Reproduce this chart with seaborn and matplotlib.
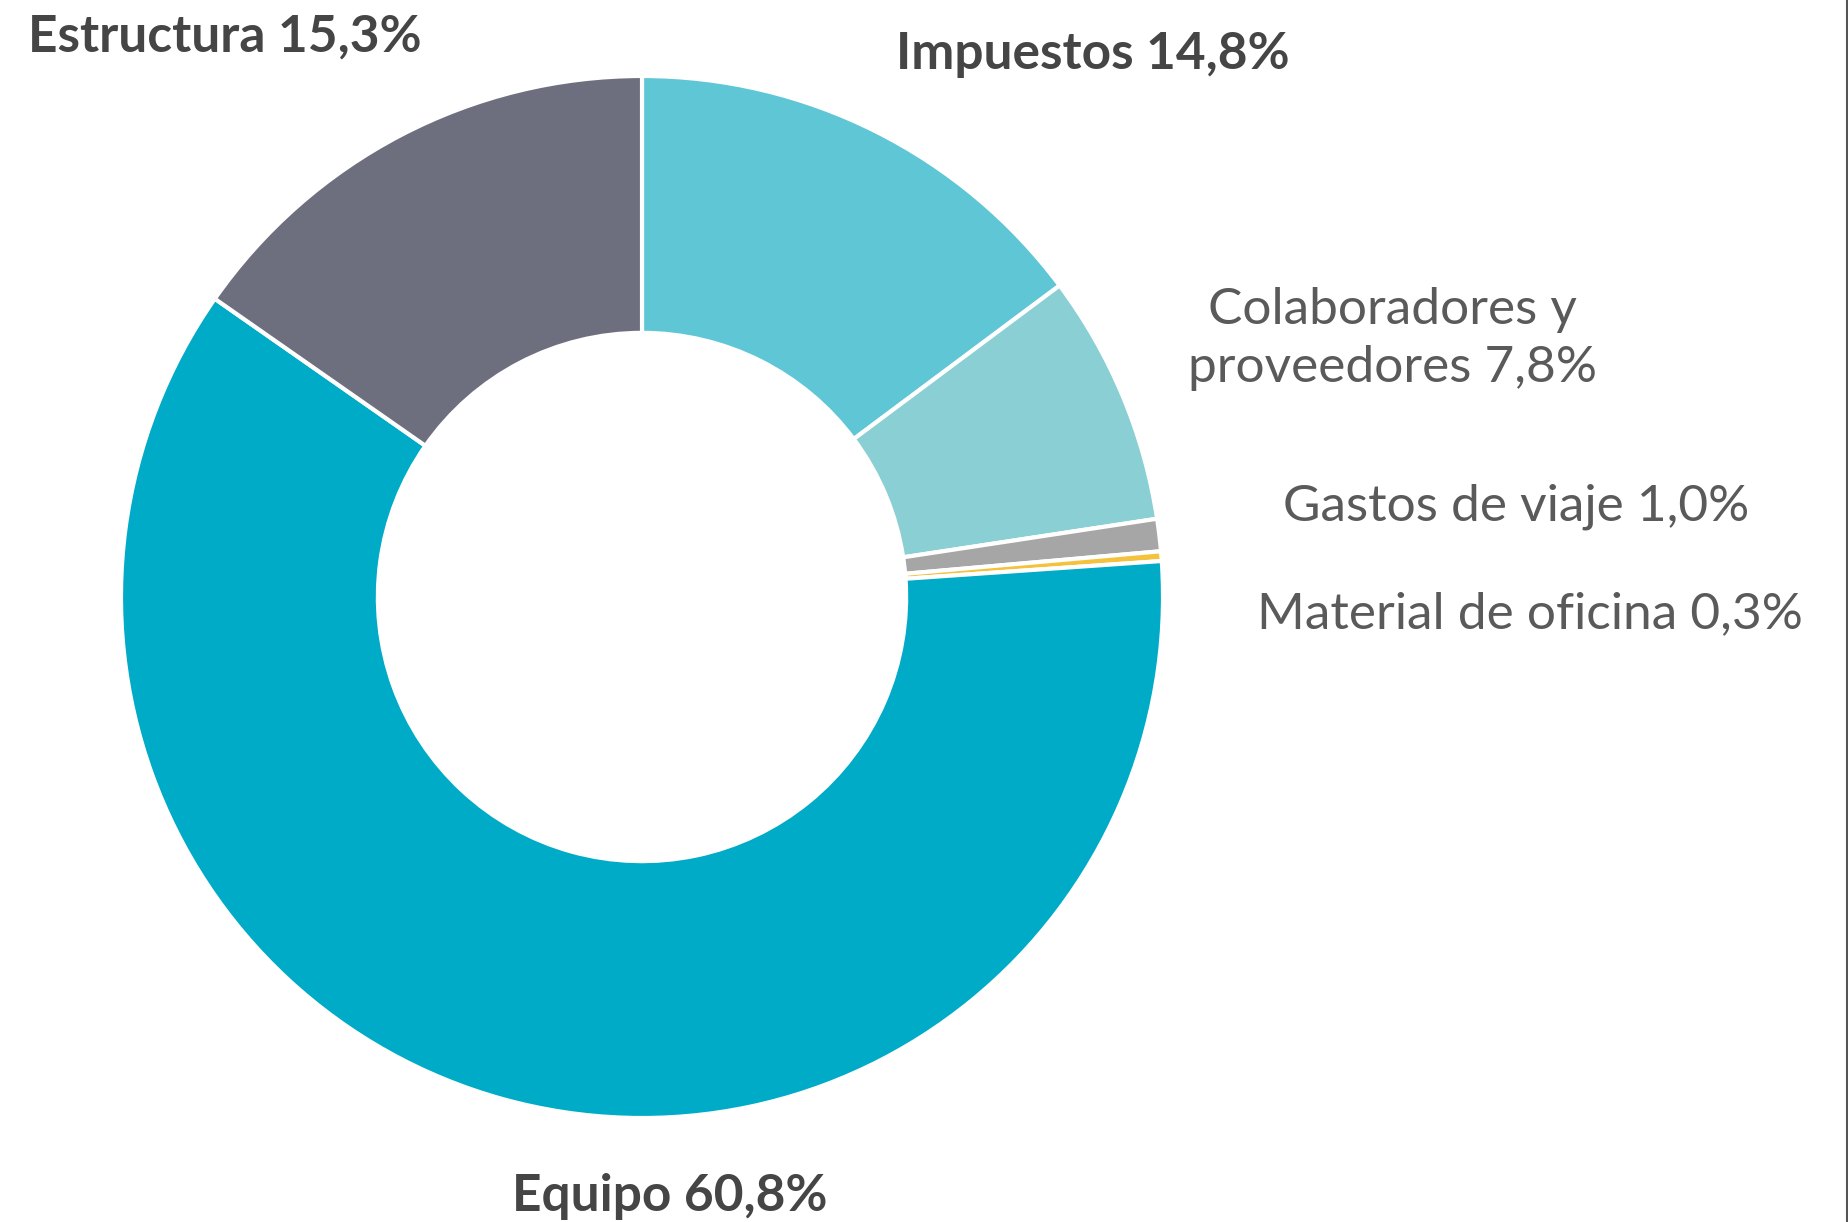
import matplotlib
matplotlib.use("Agg")
import matplotlib.pyplot as plt
import seaborn as sns
from matplotlib.lines import Line2D

sns.set_theme(style="white")
plt.rcParams['font.family'] = ['Lato', 'DejaVu Sans']

# data (clockwise from 12 o'clock)
categories = ["Impuestos", "Colaboradores y\nproveedores", "Gastos de viaje",
              "Material de oficina", "Equipo", "Estructura"]
shares = [14.8, 7.8, 1.0, 0.3, 60.8, 15.3]
pct_labels = ["14,8%", "7,8%", "1,0%", "0,3%", "60,8%", "15,3%"]
bold_label = [True, False, False, False, True, True]

colors = ["#5fc6d5", "#89cfd3", "#a6a6a6", "#f4c23e", "#00abc7", "#6d6f7f"]

W, H = 1848, 1222
cx, cy, R = 642, 597, 521

fig = plt.figure(figsize=(W / 100, H / 100), dpi=100)
fig.patch.set_facecolor("white")
ax = fig.add_axes([0, 0, 1, 1])

ax.pie(shares, colors=colors, startangle=90, counterclock=False, radius=1,
       wedgeprops=dict(width=0.493, edgecolor="white", linewidth=3))
ax.set_aspect("auto")
ax.set_xlim(-cx / R, (W - cx) / R)
ax.set_ylim(-(H - cy) / R, cy / R)
ax.axis("off")

# label anchor (pixel x, pixel y, alignment)
label_pos = [(896, 54, "left"), (1392, 339, "center"), (1516, 507, "center"),
             (1530, 614, "center"), (670, 1197, "center"), (28, 37, "left")]

for cat, pct, bold, (px, py, ha) in zip(categories, pct_labels, bold_label, label_pos):
    txt = f"{cat} {pct}"
    if bold:
        weight, col = "bold", "#454545"
    else:
        weight, col = "normal", "#5a5a5a"
    fig.text(px / W, 1 - py / H, txt, ha=ha, va="center", fontsize=37,
             fontweight=weight, color=col, linespacing=1.32, multialignment="center")

# thin frame line at right edge
fig.add_artist(Line2D([0.9992, 0.9992], [0, 1], transform=fig.transFigure,
                      color="#555555", linewidth=1.5))

fig.savefig("out.png", dpi=100, facecolor="white")
